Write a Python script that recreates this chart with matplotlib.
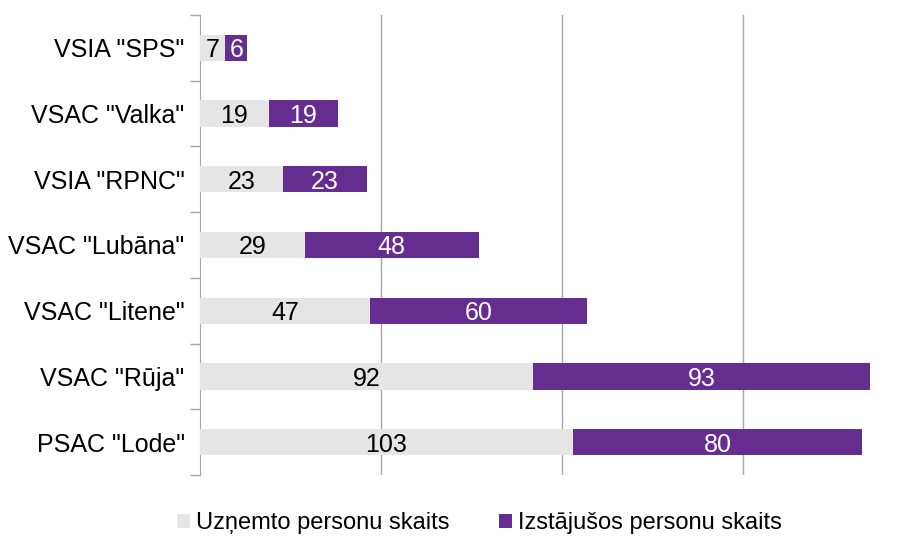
import matplotlib.pyplot as plt
import numpy as np

plt.rcParams['font.family'] = ['Liberation Sans', 'DejaVu Sans']

categories = ['VSIA "SPS"', 'VSAC "Valka"', 'VSIA "RPNC"', 'VSAC "Lubāna"',
              'VSAC "Litene"', 'VSAC "Rūja"', 'PSAC "Lode"']
admitted = [7, 19, 23, 29, 47, 92, 103]
left = [6, 19, 23, 48, 60, 93, 80]
series_names = ['Uzņemto personu skaits', 'Izstājušos personu skaits']

gray = '#e5e5e5'
purple = '#662d91'
line_col = '#a6a6a6'
fs = 18

fig = plt.figure(figsize=(9.12, 5.36), dpi=100)
ax = fig.add_axes([200 / 912, 1 - 475 / 536, 1 - 200 / 912, 460 / 536])

y = np.arange(len(categories))
b1 = ax.barh(y, admitted, height=0.4, color=gray, label=series_names[0], zorder=3)
b2 = ax.barh(y, left, left=admitted, height=0.4, color=purple, label=series_names[1], zorder=3)

for rect, v in zip(b1, admitted):
    ax.text(rect.get_x() + rect.get_width() / 2, rect.get_y() + rect.get_height() / 2, str(v),
            ha='center', va='center_baseline', fontsize=fs, color='black', zorder=4)
for rect, v in zip(b2, left):
    ax.text(rect.get_x() + rect.get_width() / 2, rect.get_y() + rect.get_height() / 2, str(v),
            ha='center', va='center_baseline', fontsize=fs, color='white', zorder=4)

ax.set_xlim(0, 712 / 3.62)
ax.set_ylim(len(categories) - 0.5, -0.5)
ax.set_xticks([50, 100, 150])
ax.tick_params(axis='x', length=0, labelbottom=False)
ax.grid(axis='x', color=line_col, linewidth=1, zorder=0)

ax.set_yticks(y)
ax.set_yticklabels(categories, fontsize=fs)
ax.tick_params(axis='y', which='major', length=0, pad=11)
ax.set_yticks(np.arange(-0.5, len(categories)), minor=True)
ax.tick_params(axis='y', which='minor', length=7, color=line_col, width=1)

for s in ['top', 'right', 'bottom']:
    ax.spines[s].set_visible(False)
ax.spines['left'].set_color(line_col)

fig.legend(handles=[b1, b2], labels=series_names, loc='center', ncol=2,
           bbox_to_anchor=(0.526, 1 - 523 / 536), frameon=False, fontsize=17,
           handlelength=0.55, handleheight=0.55, handletextpad=0.25, columnspacing=2.1)

fig.savefig('out.png', dpi=100)
